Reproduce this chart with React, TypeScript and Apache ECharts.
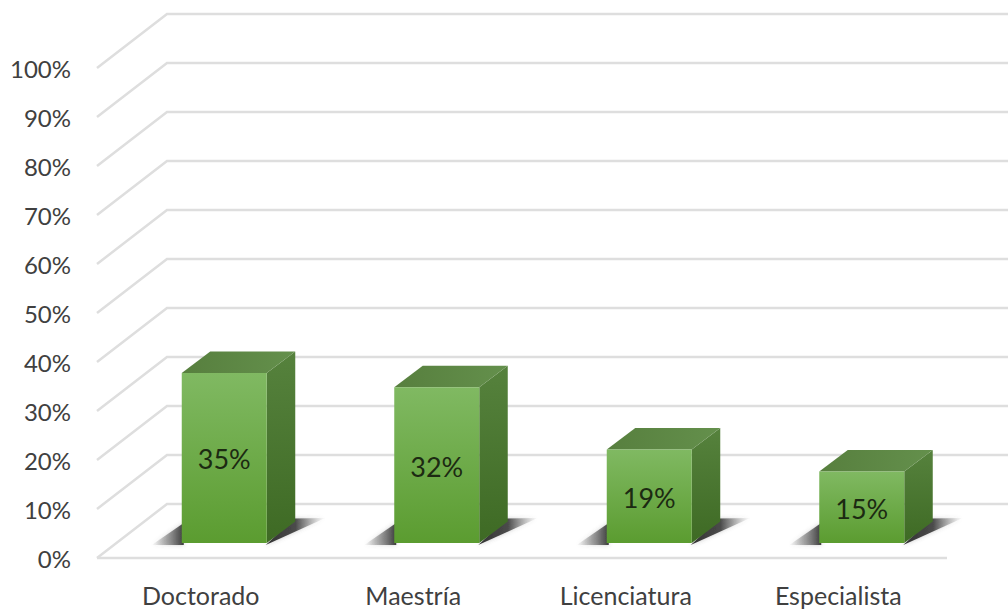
import React, { useEffect, useRef } from "react";
import * as echarts from "echarts";

const categories = ["Doctorado", "Maestría", "Licenciatura", "Especialista"];
const values = [34.8, 31.9, 19.2, 14.7];
const gridTicks = [0, 10, 20, 30, 40, 50, 60, 70, 80, 90, 100];

const FONT = "Lato";
const WALL_DX = 70;
const WALL_DY = 54;
const BAR_SHIFT_X = 21;
const BAR_SHIFT_Y = 15;
const BAR_DX = 28.5;
const BAR_DY = 21.5;
const LINE = "#dedede";

const vgrad = (a: string, b: string) =>
  new echarts.graphic.LinearGradient(0, 0, 0, 1, [
    { offset: 0, color: a },
    { offset: 1, color: b },
  ]);
const hgrad = (a: string, b: string) =>
  new echarts.graphic.LinearGradient(0, 0, 1, 0, [
    { offset: 0, color: a },
    { offset: 1, color: b },
  ]);

function renderLine(params: any, api: any) {
  const p = api.coord([0, api.value(0)]);
  const size = api.size([1, 0]);
  const y = p[1];
  const x0 = params.coordSys.x;
  const children: any[] = [
    {
      type: "polyline",
      shape: {
        points: [
          [x0, y],
          [x0 + WALL_DX, y - WALL_DY],
          [x0 + 1000, y - WALL_DY],
        ],
      },
      style: { stroke: LINE, lineWidth: 2.5, fill: "none" },
    },
  ];
  if (api.value(0) === 0) {
    children.push({
      type: "line",
      shape: { x1: x0, y1: y, x2: x0 + size[0] * 4, y2: y },
      style: { stroke: LINE, lineWidth: 2.5 },
    });
  }
  return { type: "group", children };
}

function renderBar(_params: any, api: any) {
  const base = api.coord([api.value(0), 0]);
  const top = api.coord([api.value(0), api.value(1)]);
  const w = api.size([1, 0])[0] * 0.4;
  const l = base[0] - w / 2 + BAR_SHIFT_X;
  const r = l + w;
  const b = base[1] - BAR_SHIFT_Y;
  const t = top[1] - BAR_SHIFT_Y + 0.5;
  return {
    type: "group",
    children: [
      {
        type: "polygon",
        shape: {
          points: [
            [l - 30, b + 2],
            [l + 2, b - 20],
            [l + 2, b + 2],
          ],
        },
        style: {
          fill: new echarts.graphic.LinearGradient(0, 0, 1, 0, [
            { offset: 0, color: "rgba(120,120,120,0)" },
            { offset: 0.5, color: "rgba(110,110,110,0.6)" },
            { offset: 1, color: "rgba(50,50,50,0.95)" },
          ]),
          shadowBlur: 4,
          shadowColor: "rgba(90,90,90,0.35)",
        },
      },
      {
        type: "polygon",
        shape: {
          points: [
            [r - 1, b + 2],
            [r + BAR_DX - 1, b - BAR_DY - 3],
            [r + BAR_DX + 30, b - BAR_DY - 3.5],
          ],
        },
        style: {
          fill: new echarts.graphic.LinearGradient(0, 0, 1, 0, [
            { offset: 0, color: "rgba(50,50,50,1)" },
            { offset: 0.5, color: "rgba(60,60,60,0.9)" },
            { offset: 1, color: "rgba(150,150,150,0)" },
          ]),
          shadowBlur: 4,
          shadowColor: "rgba(90,90,90,0.35)",
        },
      },
      {
        type: "polygon",
        shape: {
          points: [
            [r, t],
            [r + BAR_DX, t - BAR_DY],
            [r + BAR_DX, b - BAR_DY],
            [r, b],
          ],
        },
        style: { fill: vgrad("#56823d", "#3e6a24") },
      },
      {
        type: "polygon",
        shape: {
          points: [
            [l, t],
            [l + BAR_DX, t - BAR_DY],
            [r + BAR_DX, t - BAR_DY],
            [r, t],
          ],
        },
        style: { fill: hgrad("#577f3e", "#64904c") },
      },
      {
        type: "rect",
        shape: { x: l, y: t, width: w, height: b - t },
        style: { fill: vgrad("#80b962", "#5b9c30") },
      },
      {
        type: "text",
        x: l + w / 2,
        y: (t + b) / 2 + 1,
        style: {
          text: api.value(1).toFixed(0) + "%",
          fill: "#1c2a12",
          font: `27px ${FONT}`,
          align: "center",
          verticalAlign: "middle",
        },
      },
    ],
  };
}

export default function App() {
  const ref = useRef<HTMLDivElement>(null);
  useEffect(() => {
    const chart = echarts.init(ref.current!, undefined, { renderer: "svg" });
    chart.setOption({
      animation: false,
      backgroundColor: "#ffffff",
      grid: { left: 97, top: 68, width: 850, height: 490 },
      xAxis: {
        type: "category",
        data: categories,
        axisLine: { show: false },
        axisTick: { show: false },
        axisLabel: {
          fontFamily: FONT,
          fontSize: 25,
          color: "#404040",
          margin: 24,
          padding: [0, 5, 0, 0],
        },
      },
      yAxis: {
        type: "value",
        min: 0,
        max: 100,
        interval: 10,
        axisLine: { show: false },
        axisTick: { show: false },
        splitLine: { show: false },
        axisLabel: {
          fontFamily: FONT,
          fontSize: 24,
          color: "#404040",
          margin: 26,
          padding: [3, 0, 0, 0],
          formatter: (v: number) => `${v}%`,
        },
      },
      series: [
        {
          type: "custom",
          coordinateSystem: "cartesian2d",
          renderItem: renderLine,
          clip: false,
          silent: true,
          encode: { y: 0 },
          data: gridTicks.map((v) => [v]),
          z: 1,
        },
        {
          type: "custom",
          coordinateSystem: "cartesian2d",
          renderItem: renderBar,
          clip: false,
          silent: true,
          encode: { x: 0, y: 1 },
          data: values.map((v, i) => [i, v]),
          z: 2,
        },
      ],
    });
    return () => chart.dispose();
  }, []);
  return (
    <div
      ref={ref}
      style={{ position: "absolute", left: 0, top: 0, width: 1008, height: 609 }}
    />
  );
}
